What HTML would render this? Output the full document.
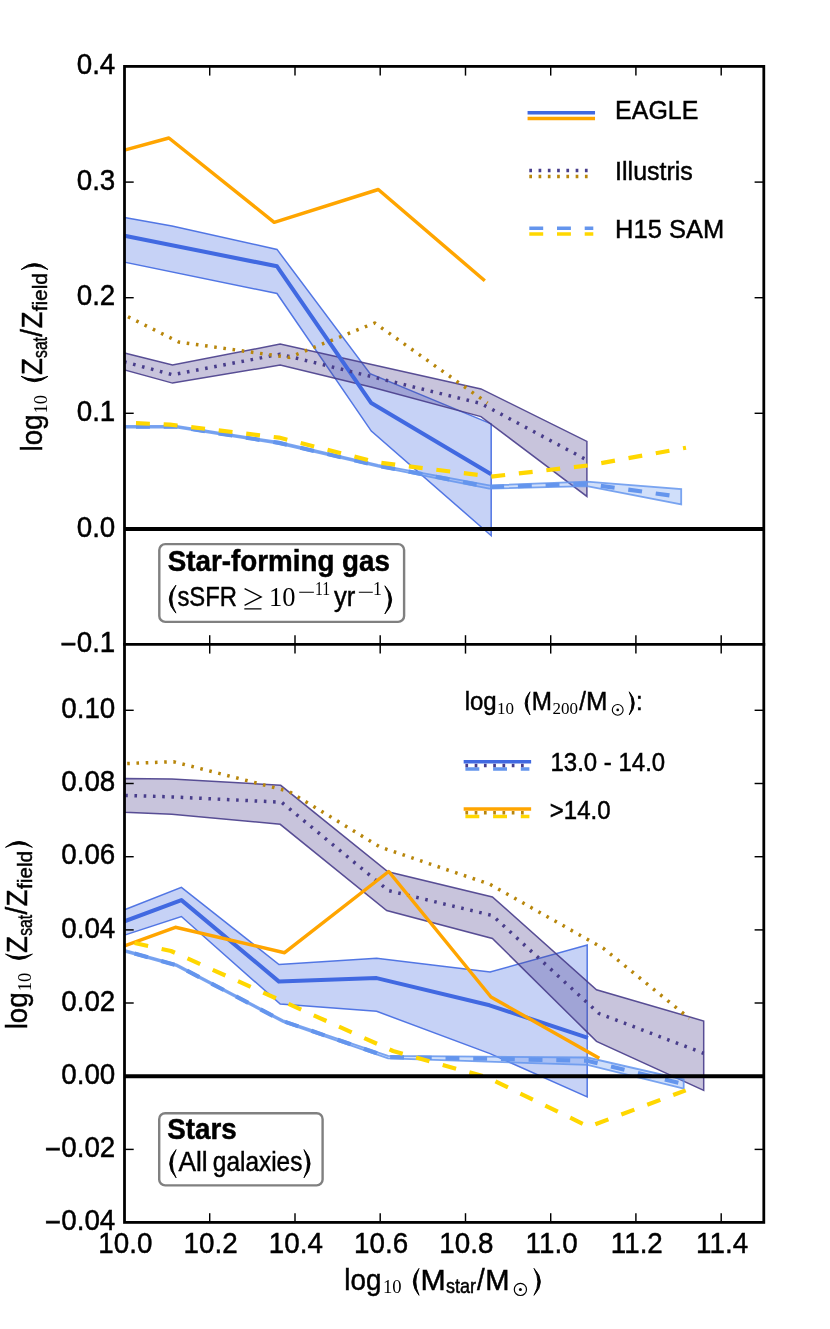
<!DOCTYPE html>
<html><head><meta charset="utf-8"><title>chart</title>
<style>html,body{margin:0;padding:0;background:#fff;overflow:hidden;}svg{display:block;will-change:transform;}text{font-family:"Liberation Sans",sans-serif;fill:#000;stroke:#000;stroke-width:0.45px;}.sf{font-family:"Liberation Serif",serif;stroke:none;}</style>
</head><body>
<svg width="830" height="1329" viewBox="0 0 830 1329">
<rect x="0" y="0" width="830" height="1329" fill="#fff"/>
<defs><clipPath id="ct"><rect x="124.5" y="66.4" width="639.3" height="578.0"/></clipPath>
<clipPath id="cb"><rect x="124.5" y="644.4" width="639.3" height="578.0"/></clipPath></defs>
<g clip-path="url(#ct)" stroke-linejoin="round">
<polygon points="124.5,217.5 172.0,226.1 277.0,249.4 370.1,373.7 491.2,423.9 491.2,535.7 371.3,431.1 277.0,293.5 124.5,262.2" fill="rgba(65,105,225,0.30)" stroke="rgba(65,105,225,0.9)" stroke-width="1.5" stroke-linejoin="miter"/>
<polygon points="124.5,353.0 172.5,365.0 280.2,344.1 481.0,388.9 586.9,441.4 586.9,496.4 481.0,416.6 372.0,387.2 280.2,365.0 172.5,383.1 124.5,369.9" fill="rgba(72,61,139,0.30)" stroke="rgba(72,61,139,0.9)" stroke-width="1.5" stroke-linejoin="miter"/>
<polygon points="124.5,425.8 176.6,425.8 279.0,442.0 378.0,464.8 489.2,485.4 586.9,481.7 681.2,489.2 681.2,504.3 586.9,486.2 489.2,488.6 378.0,466.6 279.0,443.8 176.6,427.6 124.5,427.6" fill="rgba(100,149,237,0.30)" stroke="rgba(100,149,237,0.85)" stroke-width="1.8" stroke-linejoin="miter"/>
<polyline points="124.5,235.7 277.0,266.3 371.3,403.1 491.2,474.2" fill="none" stroke="#4169E1" stroke-width="4.05"/>
<polyline points="124.5,361.9 172.5,374.7 280.2,354.2 481.0,403.5 586.9,460.0" fill="none" stroke="#483D8B" stroke-width="3.47" stroke-dasharray="2.6 6.65" stroke-dashoffset="0.4"/>
<polyline points="124.5,426.7 176.6,426.7 279.0,442.9 378.0,465.7 489.2,487.0 586.9,483.9 681.2,497.0" fill="none" stroke="#6495ED" stroke-width="4.17" stroke-dasharray="13.9 13.8" stroke-dashoffset="16.2"/>
<polyline points="124.5,150.1 168.9,138.0 274.2,222.3 378.3,189.5 484.8,280.8" fill="none" stroke="#FFA500" stroke-width="3.47"/>
<polyline points="124.5,315.0 179.0,342.1 289.0,357.4 374.7,323.0 487.5,403.1" fill="none" stroke="#B8860B" stroke-width="3.47" stroke-dasharray="2.6 6.65" stroke-dashoffset="5.35"/>
<polyline points="110.0,422.0 124.5,422.6 170.0,424.6 279.0,437.6 378.0,462.5 491.2,476.6 588.7,465.4 686.0,447.7" fill="none" stroke="#FFD700" stroke-width="4.17" stroke-dasharray="13.9 13.8" stroke-dashoffset="1.7"/>
</g>
<g clip-path="url(#cb)" stroke-linejoin="round">
<polygon points="124.5,909.8 181.4,887.3 279.0,964.5 376.6,958.3 490.1,972.0 587.2,945.1 587.2,1096.9 490.0,1053.6 376.6,1011.3 280.2,1004.1 181.4,916.5 124.5,935.1" fill="rgba(65,105,225,0.30)" stroke="rgba(65,105,225,0.9)" stroke-width="1.5" stroke-linejoin="miter"/>
<polygon points="124.5,778.6 171.8,779.0 280.7,785.3 388.0,871.8 492.4,896.9 596.5,989.8 703.7,1021.0 703.7,1090.4 596.5,1041.4 492.4,938.4 386.7,910.6 280.2,824.3 171.8,814.2 124.5,812.3" fill="rgba(72,61,139,0.30)" stroke="rgba(72,61,139,0.9)" stroke-width="1.5" stroke-linejoin="miter"/>
<polygon points="124.5,949.8 176.6,964.3 282.7,1020.1 388.0,1055.9 480.0,1056.6 587.5,1057.5 683.7,1079.5 683.7,1088.6 587.5,1064.8 480.0,1061.4 388.0,1058.3 282.7,1021.9 176.6,966.1 124.5,951.6" fill="rgba(100,149,237,0.30)" stroke="rgba(100,149,237,0.85)" stroke-width="1.8" stroke-linejoin="miter"/>
<polyline points="124.5,921.3 181.4,900.1 279.0,981.6 376.6,978.1 489.6,1005.3 588.0,1037.8" fill="none" stroke="#4169E1" stroke-width="4.05"/>
<polyline points="124.5,795.4 171.8,796.9 281.5,802.2 388.4,890.6 492.4,915.5 599.0,1013.5 703.7,1053.3" fill="none" stroke="#483D8B" stroke-width="3.47" stroke-dasharray="2.6 6.65" stroke-dashoffset="8.55"/>
<polyline points="124.5,950.7 176.6,965.2 282.7,1021.0 388.0,1057.1 500.0,1059.0 587.0,1060.7 683.7,1084.0" fill="none" stroke="#6495ED" stroke-width="4.17" stroke-dasharray="13.9 13.8" stroke-dashoffset="17.3"/>
<polyline points="124.5,945.9 175.4,927.3 284.6,952.7 388.7,871.5 491.0,997.0 599.3,1058.3" fill="none" stroke="#FFA500" stroke-width="3.47"/>
<polyline points="124.5,763.6 173.5,761.7 288.7,791.3 380.0,847.0 490.0,884.3 603.6,948.5 689.3,1018.3" fill="none" stroke="#B8860B" stroke-width="3.47" stroke-dasharray="2.6 6.65" stroke-dashoffset="6.55"/>
<polyline points="110.0,937.8 124.5,940.9 171.0,951.0 393.0,1051.0 487.0,1077.3 588.7,1126.7 685.7,1090.4" fill="none" stroke="#FFD700" stroke-width="4.17" stroke-dasharray="13.9 13.8" stroke-dashoffset="2.6"/>
</g>
<line x1="124.5" y1="528.9" x2="763.8" y2="528.9" stroke="#000" stroke-width="4.0"/>
<line x1="124.5" y1="1076.2" x2="763.8" y2="1076.2" stroke="#000" stroke-width="4.0"/>
<g stroke="#000" stroke-width="1.45">
<line x1="209.7" y1="66.4" x2="209.7" y2="75.6"/>
<line x1="209.7" y1="644.4" x2="209.7" y2="635.2"/>
<line x1="209.7" y1="644.4" x2="209.7" y2="653.6"/>
<line x1="209.7" y1="1222.4" x2="209.7" y2="1213.2"/>
<line x1="295.0" y1="66.4" x2="295.0" y2="75.6"/>
<line x1="295.0" y1="644.4" x2="295.0" y2="635.2"/>
<line x1="295.0" y1="644.4" x2="295.0" y2="653.6"/>
<line x1="295.0" y1="1222.4" x2="295.0" y2="1213.2"/>
<line x1="380.2" y1="66.4" x2="380.2" y2="75.6"/>
<line x1="380.2" y1="644.4" x2="380.2" y2="635.2"/>
<line x1="380.2" y1="644.4" x2="380.2" y2="653.6"/>
<line x1="380.2" y1="1222.4" x2="380.2" y2="1213.2"/>
<line x1="465.5" y1="66.4" x2="465.5" y2="75.6"/>
<line x1="465.5" y1="644.4" x2="465.5" y2="635.2"/>
<line x1="465.5" y1="644.4" x2="465.5" y2="653.6"/>
<line x1="465.5" y1="1222.4" x2="465.5" y2="1213.2"/>
<line x1="550.7" y1="66.4" x2="550.7" y2="75.6"/>
<line x1="550.7" y1="644.4" x2="550.7" y2="635.2"/>
<line x1="550.7" y1="644.4" x2="550.7" y2="653.6"/>
<line x1="550.7" y1="1222.4" x2="550.7" y2="1213.2"/>
<line x1="635.9" y1="66.4" x2="635.9" y2="75.6"/>
<line x1="635.9" y1="644.4" x2="635.9" y2="635.2"/>
<line x1="635.9" y1="644.4" x2="635.9" y2="653.6"/>
<line x1="635.9" y1="1222.4" x2="635.9" y2="1213.2"/>
<line x1="721.2" y1="66.4" x2="721.2" y2="75.6"/>
<line x1="721.2" y1="644.4" x2="721.2" y2="635.2"/>
<line x1="721.2" y1="644.4" x2="721.2" y2="653.6"/>
<line x1="721.2" y1="1222.4" x2="721.2" y2="1213.2"/>
<line x1="124.5" y1="182.1" x2="133.7" y2="182.1"/>
<line x1="763.8" y1="182.1" x2="754.6" y2="182.1"/>
<line x1="124.5" y1="297.7" x2="133.7" y2="297.7"/>
<line x1="763.8" y1="297.7" x2="754.6" y2="297.7"/>
<line x1="124.5" y1="413.3" x2="133.7" y2="413.3"/>
<line x1="763.8" y1="413.3" x2="754.6" y2="413.3"/>
<line x1="124.5" y1="710.3" x2="133.7" y2="710.3"/>
<line x1="763.8" y1="710.3" x2="754.6" y2="710.3"/>
<line x1="124.5" y1="783.5" x2="133.7" y2="783.5"/>
<line x1="763.8" y1="783.5" x2="754.6" y2="783.5"/>
<line x1="124.5" y1="856.7" x2="133.7" y2="856.7"/>
<line x1="763.8" y1="856.7" x2="754.6" y2="856.7"/>
<line x1="124.5" y1="929.9" x2="133.7" y2="929.9"/>
<line x1="763.8" y1="929.9" x2="754.6" y2="929.9"/>
<line x1="124.5" y1="1003.0" x2="133.7" y2="1003.0"/>
<line x1="763.8" y1="1003.0" x2="754.6" y2="1003.0"/>
<line x1="124.5" y1="1149.4" x2="133.7" y2="1149.4"/>
<line x1="763.8" y1="1149.4" x2="754.6" y2="1149.4"/>
</g>
<g stroke="#000" stroke-width="2.78" fill="none" stroke-linecap="square">
<rect x="124.5" y="66.4" width="639.3" height="1156.0"/>
<line x1="124.5" y1="644.4" x2="763.8" y2="644.4"/>
</g>
<text transform="translate(115.3,74.1) scale(1,1.045)" font-size="27.78" text-anchor="end" >0.4</text>
<text transform="translate(115.3,189.7) scale(1,1.045)" font-size="27.78" text-anchor="end" >0.3</text>
<text transform="translate(115.3,305.3) scale(1,1.045)" font-size="27.78" text-anchor="end" >0.2</text>
<text transform="translate(115.3,420.9) scale(1,1.045)" font-size="27.78" text-anchor="end" >0.1</text>
<text transform="translate(115.3,536.5) scale(1,1.045)" font-size="27.78" text-anchor="end" >0.0</text>
<text transform="translate(115.3,652.1) scale(1,1.045)" font-size="27.78" text-anchor="end" ><tspan dy="1.7">&#8722;</tspan><tspan dy="-1.7">0.1</tspan></text>
<text transform="translate(115.3,717.9) scale(1,1.045)" font-size="27.78" text-anchor="end" >0.10</text>
<text transform="translate(115.3,791.1) scale(1,1.045)" font-size="27.78" text-anchor="end" >0.08</text>
<text transform="translate(115.3,864.3) scale(1,1.045)" font-size="27.78" text-anchor="end" >0.06</text>
<text transform="translate(115.3,937.5) scale(1,1.045)" font-size="27.78" text-anchor="end" >0.04</text>
<text transform="translate(115.3,1010.6) scale(1,1.045)" font-size="27.78" text-anchor="end" >0.02</text>
<text transform="translate(115.3,1083.8) scale(1,1.045)" font-size="27.78" text-anchor="end" >0.00</text>
<text transform="translate(115.3,1157.0) scale(1,1.045)" font-size="27.78" text-anchor="end" ><tspan dy="1.7">&#8722;</tspan><tspan dy="-1.7">0.02</tspan></text>
<text transform="translate(115.3,1230.1) scale(1,1.045)" font-size="27.78" text-anchor="end" ><tspan dy="1.7">&#8722;</tspan><tspan dy="-1.7">0.04</tspan></text>
<text transform="translate(125.4,1252.6) scale(1,1.045)" font-size="27.78" text-anchor="middle" >10.0</text>
<text transform="translate(210.6,1252.6) scale(1,1.045)" font-size="27.78" text-anchor="middle" >10.2</text>
<text transform="translate(295.9,1252.6) scale(1,1.045)" font-size="27.78" text-anchor="middle" >10.4</text>
<text transform="translate(381.1,1252.6) scale(1,1.045)" font-size="27.78" text-anchor="middle" >10.6</text>
<text transform="translate(466.4,1252.6) scale(1,1.045)" font-size="27.78" text-anchor="middle" >10.8</text>
<text transform="translate(551.6,1252.6) scale(1,1.045)" font-size="27.78" text-anchor="middle" >11.0</text>
<text transform="translate(636.8,1252.6) scale(1,1.045)" font-size="27.78" text-anchor="middle" >11.2</text>
<text transform="translate(722.1,1252.6) scale(1,1.045)" font-size="27.78" text-anchor="middle" >11.4</text>
<text transform="translate(344.30,1289.70) scale(1,1.045)" font-size="27.78" text-anchor="start">log</text>
<text transform="translate(382.90,1293.20) scale(1,1.0)" font-size="18.6" text-anchor="start" class="sf">10</text>
<path d="M419.00,1268.40 Q407.60,1281.85 419.00,1295.30 Q412.60,1281.85 419.00,1268.40 Z" fill="#000" stroke="#000" stroke-width="0.9" stroke-linejoin="round"/>
<text transform="translate(420.60,1289.70) scale(1,1.045)" font-size="27.78" text-anchor="start" textLength="25.2" lengthAdjust="spacingAndGlyphs">M</text>
<text transform="translate(446.00,1293.30) scale(1,1.045)" font-size="19.4" text-anchor="start" textLength="30.0" lengthAdjust="spacingAndGlyphs" stroke="none">star</text>
<text transform="translate(476.90,1289.70) scale(1,1.045)" font-size="27.78" text-anchor="start">/</text>
<text transform="translate(485.20,1289.70) scale(1,1.045)" font-size="27.78" text-anchor="start" textLength="24.3" lengthAdjust="spacingAndGlyphs">M</text>
<circle cx="520.40" cy="1289.40" r="6.10" fill="none" stroke="#000" stroke-width="1.2"/>
<circle cx="520.40" cy="1289.40" r="1.50" fill="#000"/>
<path d="M534.00,1268.40 Q546.80,1281.85 534.00,1295.30 Q541.80,1281.85 534.00,1268.40 Z" fill="#000" stroke="#000" stroke-width="0.9" stroke-linejoin="round"/>
<g transform="translate(42.10,449.70) rotate(-90)">
<text transform="translate(-1.80,0.00) scale(1,1.045)" font-size="27.78" text-anchor="start">log</text>
<text transform="translate(36.20,4.80) scale(1,1.0)" font-size="18.6" text-anchor="start" class="sf">10</text>
<path d="M73.40,-21.00 Q62.60,-7.55 73.40,5.90 Q67.60,-7.55 73.40,-21.00 Z" fill="#000" stroke="#000" stroke-width="0.9" stroke-linejoin="round"/>
<text transform="translate(74.60,0.00) scale(1,1.045)" font-size="27.78" text-anchor="start" textLength="17.0" lengthAdjust="spacingAndGlyphs">Z</text>
<text transform="translate(91.80,5.00) scale(1,1.045)" font-size="19.4" text-anchor="start" textLength="20.8" lengthAdjust="spacingAndGlyphs" stroke="none">sat</text>
<text transform="translate(112.90,0.00) scale(1,1.045)" font-size="27.78" text-anchor="start">/</text>
<text transform="translate(121.10,0.00) scale(1,1.045)" font-size="27.78" text-anchor="start" textLength="17.0" lengthAdjust="spacingAndGlyphs">Z</text>
<text transform="translate(138.40,5.00) scale(1,1.045)" font-size="19.4" text-anchor="start" textLength="38.2" lengthAdjust="spacingAndGlyphs" stroke="none">field</text>
<path d="M180.20,-21.00 Q192.00,-7.55 180.20,5.90 Q187.00,-7.55 180.20,-21.00 Z" fill="#000" stroke="#000" stroke-width="0.9" stroke-linejoin="round"/>
</g>
<g transform="translate(26.50,1027.50) rotate(-90)">
<text transform="translate(-1.80,0.00) scale(1,1.045)" font-size="27.78" text-anchor="start">log</text>
<text transform="translate(36.20,4.80) scale(1,1.0)" font-size="18.6" text-anchor="start" class="sf">10</text>
<path d="M73.40,-21.00 Q62.60,-7.55 73.40,5.90 Q67.60,-7.55 73.40,-21.00 Z" fill="#000" stroke="#000" stroke-width="0.9" stroke-linejoin="round"/>
<text transform="translate(74.60,0.00) scale(1,1.045)" font-size="27.78" text-anchor="start" textLength="17.0" lengthAdjust="spacingAndGlyphs">Z</text>
<text transform="translate(91.80,5.00) scale(1,1.045)" font-size="19.4" text-anchor="start" textLength="20.8" lengthAdjust="spacingAndGlyphs" stroke="none">sat</text>
<text transform="translate(112.90,0.00) scale(1,1.045)" font-size="27.78" text-anchor="start">/</text>
<text transform="translate(121.10,0.00) scale(1,1.045)" font-size="27.78" text-anchor="start" textLength="17.0" lengthAdjust="spacingAndGlyphs">Z</text>
<text transform="translate(138.40,5.00) scale(1,1.045)" font-size="19.4" text-anchor="start" textLength="38.2" lengthAdjust="spacingAndGlyphs" stroke="none">field</text>
<path d="M180.20,-21.00 Q192.00,-7.55 180.20,5.90 Q187.00,-7.55 180.20,-21.00 Z" fill="#000" stroke="#000" stroke-width="0.9" stroke-linejoin="round"/>
</g>
<rect x="159.3" y="544.1" width="244.8" height="77.8" rx="6" ry="6" fill="#fff" stroke="#808080" stroke-width="2.4"/>
<text transform="translate(167.70,570.90) scale(1,1.045)" font-size="27.78" text-anchor="start" font-weight="bold" stroke="none">Star-forming gas</text>
<path d="M175.90,585.20 Q162.70,599.15 175.90,613.10 Q167.70,599.15 175.90,585.20 Z" fill="#000" stroke="#000" stroke-width="0.9" stroke-linejoin="round"/>
<text transform="translate(177.40,606.00) scale(1,0.97)" font-size="27.78" text-anchor="start" textLength="59.6" lengthAdjust="spacingAndGlyphs" stroke-width="0.15">sSFR</text>
<path d="M244.6,588.6 L261.2,596.9 L244.6,605.3 M244.3,608.8 H261.5" fill="none" stroke="#000" stroke-width="1.3"/>
<text transform="translate(268.90,606.00) scale(1,1.0)" font-size="26.5" text-anchor="start" class="sf">10</text>
<path d="M299.2,592.2 H313.9 M358.8,592.2 H372.8" stroke="#000" stroke-width="1.15"/>
<text transform="translate(315.00,595.40) scale(1,1.0)" font-size="17.8" text-anchor="start" class="sf" textLength="15.2" lengthAdjust="spacingAndGlyphs">11</text>
<text transform="translate(333.90,606.00) scale(1,0.97)" font-size="27.78" text-anchor="start" textLength="21.4" lengthAdjust="spacingAndGlyphs" stroke-width="0.15">yr</text>
<text transform="translate(372.90,595.40) scale(1,1.0)" font-size="17.8" text-anchor="start" class="sf">1</text>
<path d="M384.90,585.80 Q398.50,599.85 384.90,613.90 Q393.50,599.85 384.90,585.80 Z" fill="#000" stroke="#000" stroke-width="0.9" stroke-linejoin="round"/>
<rect x="159.2" y="1113.2" width="163.4" height="72.2" rx="6" ry="6" fill="#fff" stroke="#808080" stroke-width="2.4"/>
<text transform="translate(167.20,1139.40) scale(1,1.045)" font-size="27.78" text-anchor="start" font-weight="bold" stroke="none">Stars</text>
<path d="M176.10,1149.60 Q163.30,1163.70 176.10,1177.80 Q168.30,1163.70 176.10,1149.60 Z" fill="#000" stroke="#000" stroke-width="0.9" stroke-linejoin="round"/>
<text transform="translate(178.40,1170.70) scale(1,0.97)" font-size="27.78" text-anchor="start" textLength="29.2" lengthAdjust="spacingAndGlyphs" stroke-width="0.15">All</text>
<text transform="translate(212.80,1170.70) scale(1,0.97)" font-size="27.78" text-anchor="start" textLength="89.6" lengthAdjust="spacingAndGlyphs" stroke-width="0.15">galaxies</text>
<path d="M304.00,1149.60 Q316.20,1163.70 304.00,1177.80 Q311.20,1163.70 304.00,1149.60 Z" fill="#000" stroke="#000" stroke-width="0.9" stroke-linejoin="round"/>
<line x1="529.3" y1="112.70" x2="593.3" y2="112.70" stroke="#4169E1" stroke-width="3.47" stroke-linecap="square"/>
<line x1="529.3" y1="118.50" x2="593.3" y2="118.50" stroke="#FFA500" stroke-width="3.47" stroke-linecap="square"/>
<line x1="529.3" y1="170.60" x2="593.3" y2="170.60" stroke="#483D8B" stroke-width="3.47" stroke-linecap="butt" stroke-dasharray="2.7 6.57"/>
<line x1="529.3" y1="176.40" x2="593.3" y2="176.40" stroke="#B8860B" stroke-width="3.47" stroke-linecap="butt" stroke-dasharray="2.7 6.57"/>
<line x1="529.3" y1="228.20" x2="593.3" y2="228.20" stroke="#6495ED" stroke-width="3.47" stroke-linecap="butt" stroke-dasharray="13.9 13.8"/>
<line x1="529.3" y1="234.00" x2="593.3" y2="234.00" stroke="#FFD700" stroke-width="3.47" stroke-linecap="butt" stroke-dasharray="13.9 13.8"/>
<text transform="translate(615.10,119.00) scale(1,1.045)" font-size="25" text-anchor="start">EAGLE</text>
<text transform="translate(615.10,179.60) scale(1,1.045)" font-size="25" text-anchor="start">Illustris</text>
<text transform="translate(615.10,237.50) scale(1,1.045)" font-size="25" text-anchor="start" textLength="109.0" lengthAdjust="spacingAndGlyphs">H15 SAM</text>
<text transform="translate(464.70,710.10) scale(1,1.045)" font-size="24" text-anchor="start">log</text>
<text transform="translate(496.90,714.10) scale(1,1.0)" font-size="17.0" text-anchor="start" class="sf">10</text>
<path d="M530.00,691.80 Q520.20,703.40 530.00,715.00 Q524.60,703.40 530.00,691.80 Z" fill="#000" stroke="#000" stroke-width="0.9" stroke-linejoin="round"/>
<text transform="translate(531.70,710.10) scale(1,1.045)" font-size="24" text-anchor="start" textLength="20.2" lengthAdjust="spacingAndGlyphs">M</text>
<text transform="translate(552.40,714.10) scale(1,1.0)" font-size="17.0" text-anchor="start" class="sf">200</text>
<text transform="translate(579.30,710.10) scale(1,1.045)" font-size="24" text-anchor="start">/</text>
<text transform="translate(585.90,710.10) scale(1,1.045)" font-size="24" text-anchor="start" textLength="21.4" lengthAdjust="spacingAndGlyphs">M</text>
<circle cx="617.70" cy="709.90" r="5.40" fill="none" stroke="#000" stroke-width="1.1"/>
<circle cx="617.70" cy="709.90" r="1.35" fill="#000"/>
<path d="M629.20,691.80 Q639.40,703.40 629.20,715.00 Q635.00,703.40 629.20,691.80 Z" fill="#000" stroke="#000" stroke-width="0.9" stroke-linejoin="round"/>
<text transform="translate(635.90,710.10) scale(1,1.045)" font-size="24" text-anchor="start">:</text>
<line x1="465.4" y1="769.00" x2="529.4" y2="769.00" stroke="#6495ED" stroke-width="3.47" stroke-linecap="butt" stroke-dasharray="13.9 13.8"/>
<line x1="465.4" y1="765.40" x2="529.4" y2="765.40" stroke="#483D8B" stroke-width="3.47" stroke-linecap="butt" stroke-dasharray="2.7 6.57"/>
<line x1="465.4" y1="761.80" x2="529.4" y2="761.80" stroke="#4169E1" stroke-width="3.47" stroke-linecap="square"/>
<line x1="465.4" y1="816.60" x2="529.4" y2="816.60" stroke="#FFD700" stroke-width="3.47" stroke-linecap="butt" stroke-dasharray="13.9 13.8"/>
<line x1="465.4" y1="812.80" x2="529.4" y2="812.80" stroke="#B8860B" stroke-width="3.47" stroke-linecap="butt" stroke-dasharray="2.7 6.57"/>
<line x1="465.4" y1="809.10" x2="529.4" y2="809.10" stroke="#FFA500" stroke-width="3.47" stroke-linecap="square"/>
<text transform="translate(550.50,771.20) scale(1,1.045)" font-size="24" text-anchor="start">13.0 - 14.0</text>
<text transform="translate(549.80,819.30) scale(1,1.045)" font-size="24" text-anchor="start">&gt;14.0</text>
</svg></body></html>
